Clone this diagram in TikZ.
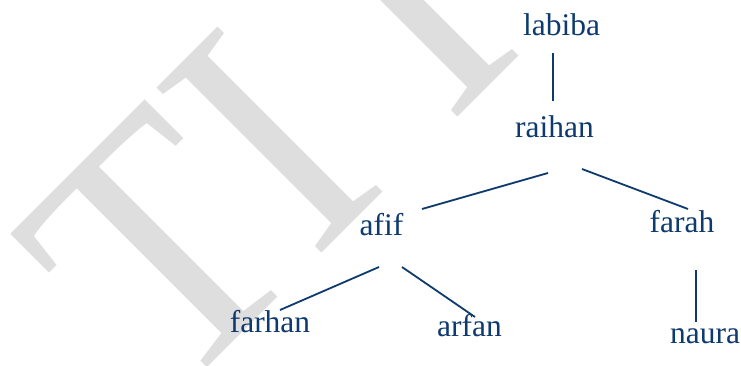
\documentclass[tikz,border=0pt]{standalone}
\usepackage{fontspec}
\setmainfont{Liberation Serif}
\usetikzlibrary{calc}
\definecolor{inkblue}{RGB}{14,58,110}
\definecolor{wmgray}{RGB}{222,222,222}
\tikzset{
  person/.style={anchor=base, inner sep=0pt, text=inkblue, font=\fontsize{31.5}{36}\selectfont},
  edge/.style={draw=inkblue, line width=1.8pt},
  watermark/.style={anchor=base west, inner sep=0pt, text=wmgray, rotate=45, yscale=1.08,
    font=\fontsize{330}{330}\selectfont}
}
\begin{document}
\begin{tikzpicture}[x=1pt,y=1pt]
  \useasboundingbox (0,0) rectangle (741,365);
  \clip (0,0) rectangle (741,365);
  \fill[white] (0,0) rectangle (741,365);
  % watermark
  \node[watermark] (wm) at (171,-39) {TI I};
  % people
  \node[person] (labiba) at (561.5,329) {labiba};
  \node[person] (raihan) at (554.5,228) {raihan};
  \node[person] (afif)   at (381.5,130) {afif};
  \node[person] (farah)  at (682,133)   {farah};
  \node[person] (farhan) at (270,33)    {farhan};
  \node[person] (arfan)  at (469.5,29)  {arfan};
  \node[person] (naura)  at (705,22)    {naura};
  % connectors
  \draw[edge] ($(labiba.base)+(-8.5,-17)$) -- ($(raihan.base)+(-1.5,36)$);
  \draw[edge] ($(raihan.base)+(-6.5,-36)$) -- ($(afif.base)+(40.5,26)$);
  \draw[edge] ($(raihan.base)+(27.5,-32)$) -- ($(farah.base)+(6,23)$);
  \draw[edge] ($(afif.base)+(-2.5,-32)$) -- ($(farhan.base)+(10,22)$);
  \draw[edge] ($(afif.base)+(20.5,-32)$) -- ($(arfan.base)+(5.5,19)$);
  \draw[edge] ($(farah.base)+(14,-38)$) -- ($(naura.base)+(-9,21)$);
\end{tikzpicture}
\end{document}
